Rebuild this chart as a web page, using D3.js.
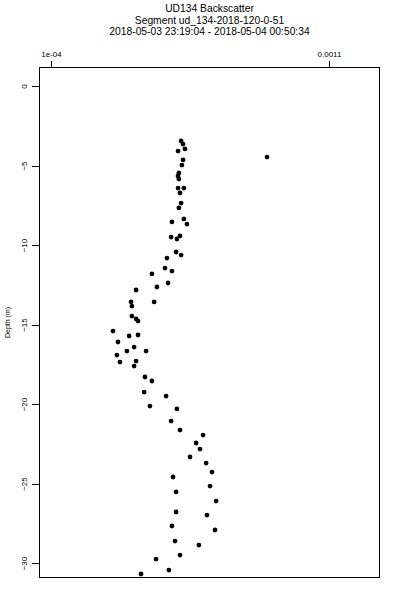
<!DOCTYPE html>
<html>
<head>
<meta charset="utf-8">
<script src="https://cdn.jsdelivr.net/npm/d3@7.9.0/dist/d3.min.js"></script>
<style>
  body { margin: 0; background: #fff; }
  svg { display: block; font-family: "Liberation Sans", Arial, sans-serif; }
</style>
</head>
<body>
<svg id="chart" width="400" height="600"></svg>
<script>
const titleLines = [
  'UD134 Backscatter',
  'Segment ud_134-2018-120-0-51',
  '2018-05-03 23:19:04 - 2018-05-04 00:50:34'
];

// backscatter values
const backscatter = [
  5.68e-4, 5.75e-4, 5.82e-4, 5.57e-4, 8.77e-4, 5.75e-4, 5.71e-4, 5.60e-4, 5.57e-4, 5.60e-4,
  5.57e-4, 5.78e-4, 5.64e-4, 5.68e-4, 5.60e-4, 5.78e-4, 5.35e-4, 5.89e-4, 5.64e-4, 5.32e-4,
  5.53e-4, 5.50e-4, 5.68e-4, 5.17e-4, 5.10e-4, 5.35e-4, 4.63e-4, 5.21e-4, 4.81e-4, 4.06e-4,
  4.71e-4, 3.88e-4, 3.91e-4, 3.91e-4, 4.06e-4, 4.13e-4, 3.23e-4, 4.13e-4, 3.81e-4, 3.41e-4,
  3.99e-4, 3.73e-4, 4.42e-4, 3.37e-4, 4.06e-4, 3.48e-4, 3.99e-4, 4.38e-4, 4.63e-4, 4.35e-4,
  5.14e-4, 4.56e-4, 5.53e-4, 5.32e-4, 5.64e-4, 6.47e-4, 6.22e-4, 6.36e-4, 6.00e-4, 6.58e-4,
  6.79e-4, 5.39e-4, 6.72e-4, 5.50e-4, 6.94e-4, 5.50e-4, 6.61e-4, 5.35e-4, 6.90e-4, 5.46e-4,
  6.32e-4, 5.64e-4, 4.78e-4, 5.24e-4, 4.24e-4
];

// depth in metres
const depth = [
  -3.46, -3.65, -3.96, -4.09, -4.47, -4.65, -4.97, -5.47, -5.66, -5.85,
  -6.42, -6.42, -6.73, -7.36, -7.67, -8.36, -8.55, -8.68, -9.43, -9.50,
  -9.62, -10.44, -10.63, -10.82, -11.45, -11.64, -11.82, -12.39, -12.64, -12.83,
  -13.58, -13.58, -13.84, -14.47, -14.65, -14.78, -15.41, -15.66, -15.72, -16.10,
  -16.42, -16.67, -16.67, -16.92, -17.30, -17.36, -17.61, -18.30, -18.55, -19.25,
  -19.50, -20.13, -20.31, -21.07, -21.64, -21.95, -22.45, -22.83, -23.33, -23.71,
  -24.28, -24.59, -25.16, -25.53, -26.10, -26.79, -26.98, -27.67, -27.92, -28.62,
  -28.87, -29.50, -29.75, -30.44, -30.69
];

const xTicks = [1e-4, 0.0011];
const xTickLabels = ['1e-04', '0.0011'];
const yTicks = [0, -5, -10, -15, -20, -25, -30];

const points = backscatter.map((v, i) => ({ v, d: depth[i] }));

const svg = d3.select('#chart');
const plotLeft = 39, plotRight = 380, plotTop = 67, plotBottom = 578;

const x = d3.scaleLinear()
  .domain([0.0000568, 0.0012835])
  .range([plotLeft, plotRight]);

const y = d3.scaleLinear()
  .domain([1.195, -30.94])
  .range([plotTop, plotBottom]);

// title
svg.append('g')
  .selectAll('text')
  .data(titleLines)
  .join('text')
  .attr('x', (plotLeft + plotRight) / 2)
  .attr('y', (d, i) => 12 + i * 11.6)
  .attr('text-anchor', 'middle')
  .attr('font-size', 10.3)
  .text(d => d);

// box
svg.append('rect')
  .attr('x', plotLeft + 0.5)
  .attr('y', plotTop + 0.5)
  .attr('width', plotRight - plotLeft - 1)
  .attr('height', plotBottom - plotTop - 1)
  .attr('fill', 'none')
  .attr('stroke', '#000')
  .attr('shape-rendering', 'crispEdges');

// top axis
const xAxis = d3.axisTop(x)
  .tickValues(xTicks)
  .tickFormat((d, i) => xTickLabels[i])
  .tickSize(6)
  .tickPadding(4);

const gx = svg.append('g')
  .attr('transform', `translate(0,${plotTop})`)
  .call(xAxis);
gx.select('.domain').remove();
gx.selectAll('text').attr('font-size', 8).attr('font-family', null);

// left axis
const yAxis = d3.axisLeft(y)
  .tickValues(yTicks)
  .tickFormat(d3.format('d'))
  .tickSize(7)
  .tickPadding(0);

const gy = svg.append('g')
  .attr('transform', `translate(${plotLeft},0)`)
  .call(yAxis);
gy.select('.domain').remove();
gy.selectAll('.tick text')
  .attr('font-size', 8)
  .attr('font-family', null)
  .attr('x', null)
  .attr('dy', null)
  .attr('text-anchor', 'middle')
  .attr('transform', 'translate(-15,0) rotate(-90)')
  .attr('dominant-baseline', 'central');

svg.selectAll('.tick line').attr('shape-rendering', 'crispEdges');

// y label
svg.append('text')
  .attr('transform', `translate(7,${(plotTop + plotBottom) / 2}) rotate(-90)`)
  .attr('text-anchor', 'middle')
  .attr('dominant-baseline', 'central')
  .attr('font-size', 7)
  .text('Depth (m)');

// points
svg.append('g')
  .selectAll('circle')
  .data(points)
  .join('circle')
  .attr('cx', d => x(d.v))
  .attr('cy', d => y(d.d))
  .attr('r', 2.4)
  .attr('fill', '#000');
</script>
</body>
</html>
